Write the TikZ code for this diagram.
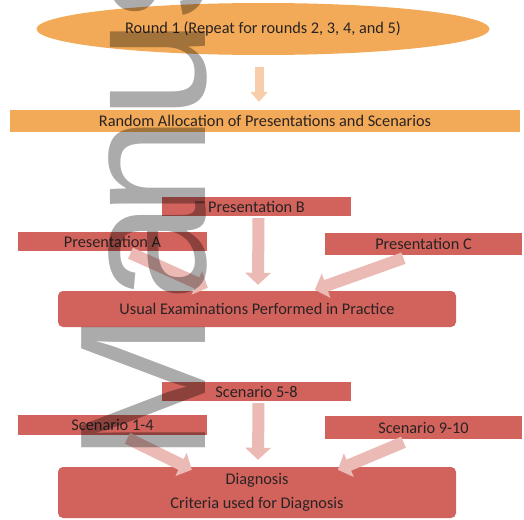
\documentclass[tikz,border=0pt]{standalone}
\usepackage{fontspec}
\setmainfont{Carlito}
\newfontfamily\wmfont{Liberation Sans}
\usetikzlibrary{arrows.meta,calc,shapes.geometric}
\definecolor{orng}{RGB}{243,170,88}
\definecolor{redb}{RGB}{210,98,92}
\definecolor{parrow}{RGB}{236,186,181}
\definecolor{oarrow}{RGB}{248,205,170}
\definecolor{txt}{RGB}{40,35,35}
\begin{document}
\begin{tikzpicture}[x=1pt,y=-1pt,
  lbl/.style={inner sep=0pt, text=txt, font=\fontsize{16.3}{19}\selectfont},
  redbox/.style={lbl, fill=redb, rectangle},
  orbox/.style={lbl, fill=orng, rectangle},
  bigbox/.style={lbl, fill=redb, rectangle, rounded corners=5pt, align=center},
  parr/.style={draw=parrow, line width=12pt, -{Triangle[width=25pt,length=12pt]}},
  oarr/.style={draw=oarrow, line width=9pt, -{Triangle[width=17pt,length=10pt]}},
  wmletter/.style={rotate=90, anchor=base west, inner sep=0pt, text=black, text opacity=0.33,
      font=\wmfont\fontsize{180}{180}\selectfont}]
\useasboundingbox (0,0) rectangle (524,519);
\fill[white] (0,0) rectangle (524,519);

\node[lbl, ellipse, fill=orng, minimum width=453pt, minimum height=52pt] (round) at (263,29) {Round 1 (Repeat for rounds 2, 3, 4, and 5)};
\node[orbox, minimum width=510pt, minimum height=22pt] (rand) at (265,121) {Random Allocation of Presentations and Scenarios};

\node[redbox, minimum width=189pt, minimum height=19pt] (pB) at (256.5,206.5) {Presentation B};
\node[redbox, minimum width=189pt, minimum height=19pt] (pA) at (112.5,241.5) {Presentation A};
\node[redbox, minimum width=197pt, minimum height=22pt] (pC) at (423.5,244) {Presentation C};
\node[bigbox, minimum width=398pt, minimum height=36pt] (usual) at (257,309) {Usual Examinations Performed in Practice};

\node[redbox, minimum width=189pt, minimum height=19pt] (s58) at (256.5,391.5) {Scenario 5-8};
\node[redbox, minimum width=189pt, minimum height=20pt] (s14) at (112.5,425) {Scenario 1-4};
\node[redbox, minimum width=197pt, minimum height=23pt] (s910) at (423.5,427.5) {Scenario 9-10};
\node[bigbox, minimum width=398pt, minimum height=51pt] (diag) at (257,492.5) {Diagnosis\\[5pt]Criteria used for Diagnosis};

\draw[oarr] ($(round.south)+(-4,12)$) -- ($(rand.north)+(-6,-8)$);

\draw[parr] ($(pB.south)+(2,2)$) -- ($(usual.north)+(1,-6)$);
\draw[parr] ($(pA.south)+(18,2)$) -- ($(usual.north west)+(150,-3)$);
\draw[parr] ($(pC.south)+(-20,3)$) -- ($(usual.north west)+(257,-1)$);

\draw[parr] ($(s58.south)+(2,2)$) -- ($(diag.north)+(1,-7)$);
\draw[parr] ($(s14.south)+(15,3)$) -- ($(diag.north west)+(134,3)$);
\draw[parr] ($(s910.south)+(-20,3)$) -- ($(diag.north west)+(280,3)$);

\begin{scope}
\clip (0,0) rectangle (524,519);
\node[wmletter] (wmM) at (205,463) {M};
\node[wmletter] (wma) at (205,302) {a};
\node[wmletter] (wmn) at (205,217) {n};
\node[wmletter] (wmu) at (205,119.5) {u};
\node[wmletter] (wms) at (205,21) {s};
\end{scope}
\end{tikzpicture}
\end{document}
